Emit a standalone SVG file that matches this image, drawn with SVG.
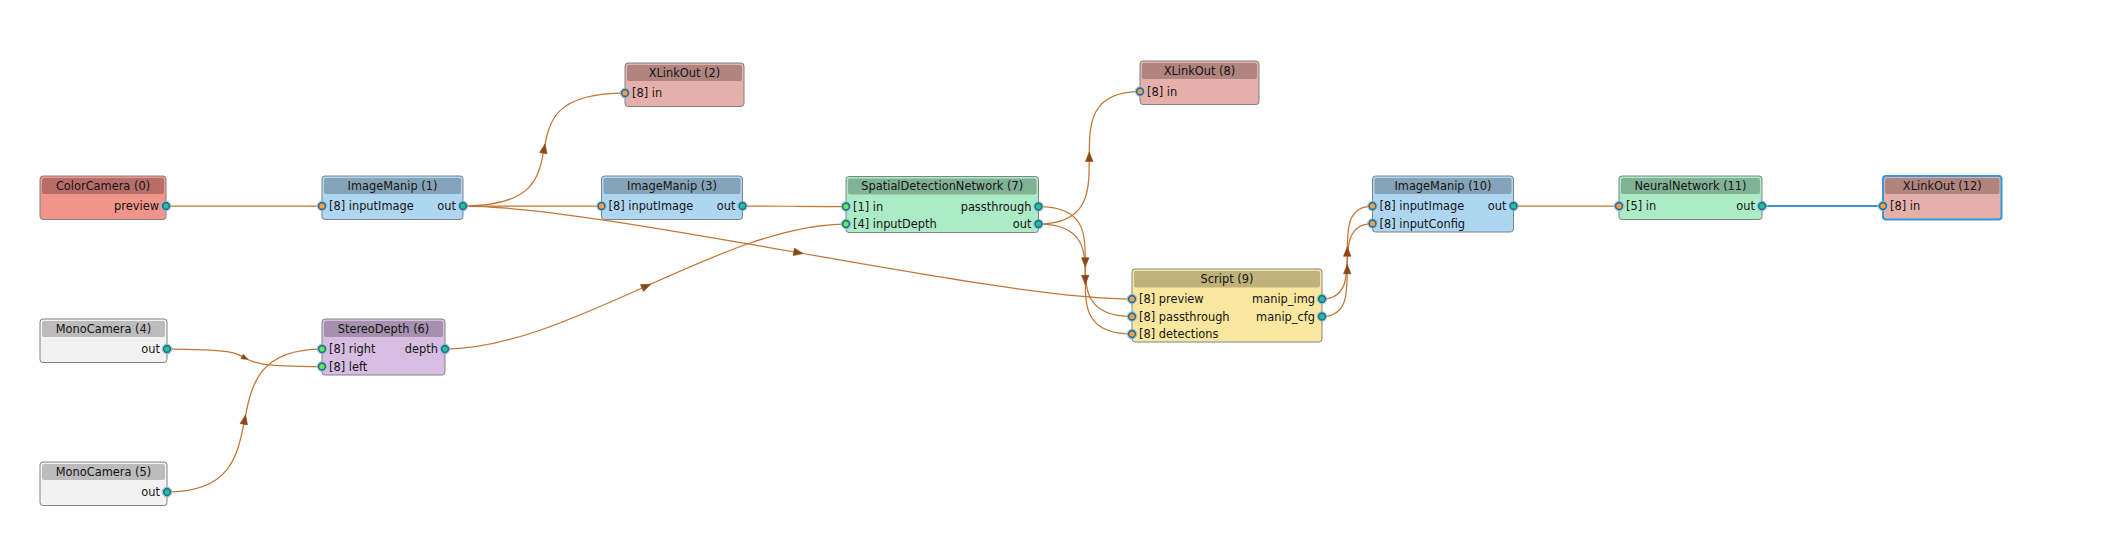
<svg xmlns="http://www.w3.org/2000/svg" width="2123" height="549" viewBox="0 0 2123 549">
<style>
text{font-family:"DejaVu Sans","Liberation Sans",sans-serif;font-size:11.4px;fill:#141414}
.t{text-anchor:middle}
.o{text-anchor:end}
.box{stroke:#7d8487;stroke-width:1}
.sel{stroke:#3498db;stroke-width:2}
.link{fill:none;stroke:#c27636;stroke-width:1.25}
.blue{fill:none;stroke:#3a9ad9;stroke-width:2}
.arr{fill:#8a4815;stroke:#8a4815;stroke-width:0.6}
.halo{fill:none;stroke:#8fc3e0;stroke-width:1}
.pi{fill:#f5a14b;stroke:#2f6a8e;stroke-width:1.6}
.pg{fill:#58ef58;stroke:#2f6a8e;stroke-width:1.6}
.po{fill:#1fc394;stroke:#2f6a8e;stroke-width:1.6}
</style>
<defs>
<g id="halo"><circle r="4.9" class="halo"/></g>
</defs>
<rect width="2123" height="549" fill="#ffffff"/>
<g id="connectors">
<path class="link" d="M166,206 C292,206 196,206 322,206"/>
<path class="link" d="M463,206 C604,206 484,93 625,93"/>
<path class="link" d="M463,206 L601.5,206"/>
<path class="link" d="M463,206 C604,206 991,299 1132,299"/>
<path class="link" d="M742.5,206 C845.5,206 743,206.5 846,206.5"/>
<path class="link" d="M445,349 C568,349 723,224 846,224"/>
<path class="link" d="M167,349 C294,349 195,366.5 322,366.5"/>
<path class="link" d="M167,492 C294,492 195,349 322,349"/>
<path class="link" d="M1038.5,224 C1140,224 1038.5,91.5 1140,91.5"/>
<path class="link" d="M1038.5,206.5 C1132,206.5 1038.5,316.5 1132,316.5"/>
<path class="link" d="M1038.5,224 C1132,224 1038.5,334 1132,334"/>
<path class="link" d="M1322,299 C1372.5,299 1322,206 1372.5,206"/>
<path class="link" d="M1322,316.5 C1372.5,316.5 1322,223.5 1372.5,223.5"/>
<path class="link" d="M1513.5,206 L1619,206"/>
<path class="blue" d="M1762,206 L1883,206"/>
<polygon class="arr" points="-3.75,3.75 0,-5.6 3.75,3.75" transform="translate(544,149.5) rotate(10.5)"/>
<polygon class="arr" points="-3.75,3.75 0,-5.6 3.75,3.75" transform="translate(797.5,252.5) rotate(100)"/>
<polygon class="arr" points="-3.75,3.75 0,-5.6 3.75,3.75" transform="translate(645.5,286.5) rotate(65.8)"/>
<polygon class="arr" points="-3.75,3.75 0,-5.6 3.75,3.75" transform="translate(244.5,357.75) rotate(118) scale(0.7)"/>
<polygon class="arr" points="-3.75,3.75 0,-5.6 3.75,3.75" transform="translate(244.5,420.5) rotate(11.1)"/>
<polygon class="arr" points="-3.75,3.75 0,-5.6 3.75,3.75" transform="translate(1089.25,157.75)"/>
<polygon class="arr" points="-3.75,3.75 0,-5.6 3.75,3.75" transform="translate(1085.25,261.5) rotate(180)"/>
<polygon class="arr" points="-3.75,3.75 0,-5.6 3.75,3.75" transform="translate(1085.25,279) rotate(180)"/>
<polygon class="arr" points="-3.75,3.75 0,-5.6 3.75,3.75" transform="translate(1347.25,252.5)"/>
<polygon class="arr" points="-3.75,3.75 0,-5.6 3.75,3.75" transform="translate(1347.25,270)"/>
</g>
<g id="node-0">
<rect class="box" x="40" y="176" width="126" height="43.5" rx="3" fill="#f1948a"/>
<rect x="42" y="178" width="122" height="16" rx="2" fill="#b86e68"/>
<text class="t" x="103" y="189.7">ColorCamera (0)</text>
<text class="o" x="159" y="210.3">preview</text>
<use href="#halo" x="166" y="206"/><circle class="po" cx="166" cy="206" r="3.4"/>
</g>
<g id="node-1">
<rect class="box" x="322" y="176" width="141" height="43.5" rx="3" fill="#aed6f1"/>
<rect x="324" y="178" width="137" height="16" rx="2" fill="#85a3b8"/>
<text class="t" x="392.5" y="189.7">ImageManip (1)</text>
<text x="329" y="210.3">[8] inputImage</text>
<text class="o" x="456" y="210.3">out</text>
<use href="#halo" x="322" y="206"/><circle class="pi" cx="322" cy="206" r="3.4"/>
<use href="#halo" x="463" y="206"/><circle class="po" cx="463" cy="206" r="3.4"/>
</g>
<g id="node-2">
<rect class="box" x="625" y="63" width="119" height="43.5" rx="3" fill="#e6b0aa"/>
<rect x="627" y="65" width="115" height="16" rx="2" fill="#b0847f"/>
<text class="t" x="684.5" y="76.7">XLinkOut (2)</text>
<text x="632" y="97.3">[8] in</text>
<use href="#halo" x="625" y="93"/><circle class="pi" cx="625" cy="93" r="3.4"/>
</g>
<g id="node-3">
<rect class="box" x="601.5" y="176" width="141" height="43.5" rx="3" fill="#aed6f1"/>
<rect x="603.5" y="178" width="137" height="16" rx="2" fill="#85a3b8"/>
<text class="t" x="672" y="189.7">ImageManip (3)</text>
<text x="608.5" y="210.3">[8] inputImage</text>
<text class="o" x="735.5" y="210.3">out</text>
<use href="#halo" x="601.5" y="206"/><circle class="pi" cx="601.5" cy="206" r="3.4"/>
<use href="#halo" x="742.5" y="206"/><circle class="po" cx="742.5" cy="206" r="3.4"/>
</g>
<g id="node-4">
<rect class="box" x="40" y="319" width="127" height="43.5" rx="3" fill="#f2f2f2"/>
<rect x="42" y="321" width="123" height="16" rx="2" fill="#bcbcbc"/>
<text class="t" x="103.5" y="332.7">MonoCamera (4)</text>
<text class="o" x="160" y="353.3">out</text>
<use href="#halo" x="167" y="349"/><circle class="po" cx="167" cy="349" r="3.4"/>
</g>
<g id="node-5">
<rect class="box" x="40" y="462" width="127" height="43.5" rx="3" fill="#f2f2f2"/>
<rect x="42" y="464" width="123" height="16" rx="2" fill="#bcbcbc"/>
<text class="t" x="103.5" y="475.7">MonoCamera (5)</text>
<text class="o" x="160" y="496.3">out</text>
<use href="#halo" x="167" y="492"/><circle class="po" cx="167" cy="492" r="3.4"/>
</g>
<g id="node-6">
<rect class="box" x="322" y="319" width="123" height="56" rx="3" fill="#d7bde2"/>
<rect x="324" y="321" width="119" height="16" rx="2" fill="#a590ad"/>
<text class="t" x="383.5" y="332.7">StereoDepth (6)</text>
<text x="329" y="353.3">[8] right</text>
<text x="329" y="370.8">[8] left</text>
<text class="o" x="438" y="353.3">depth</text>
<use href="#halo" x="322" y="349"/><circle class="pg" cx="322" cy="349" r="3.4"/>
<use href="#halo" x="322" y="366.5"/><circle class="pg" cx="322" cy="366.5" r="3.4"/>
<use href="#halo" x="445" y="349"/><circle class="po" cx="445" cy="349" r="3.4"/>
</g>
<g id="node-7">
<rect class="box" x="846" y="176.5" width="192.5" height="56" rx="3" fill="#abebc6"/>
<rect x="848" y="178.5" width="188.5" height="16" rx="2" fill="#82b296"/>
<text class="t" x="942.25" y="190.2">SpatialDetectionNetwork (7)</text>
<text x="853" y="210.8">[1] in</text>
<text x="853" y="228.3">[4] inputDepth</text>
<text class="o" x="1031.5" y="210.8">passthrough</text>
<text class="o" x="1031.5" y="228.3">out</text>
<use href="#halo" x="846" y="206.5"/><circle class="pg" cx="846" cy="206.5" r="3.4"/>
<use href="#halo" x="846" y="224"/><circle class="pg" cx="846" cy="224" r="3.4"/>
<use href="#halo" x="1038.5" y="206.5"/><circle class="po" cx="1038.5" cy="206.5" r="3.4"/>
<use href="#halo" x="1038.5" y="224"/><circle class="po" cx="1038.5" cy="224" r="3.4"/>
</g>
<g id="node-8">
<rect class="box" x="1140" y="61" width="119" height="43.5" rx="3" fill="#e6b0aa"/>
<rect x="1142" y="63" width="115" height="16" rx="2" fill="#b0847f"/>
<text class="t" x="1199.5" y="74.7">XLinkOut (8)</text>
<text x="1147" y="95.8">[8] in</text>
<use href="#halo" x="1140" y="91.5"/><circle class="pi" cx="1140" cy="91.5" r="3.4"/>
</g>
<g id="node-9">
<rect class="box" x="1132" y="269" width="190" height="73" rx="3" fill="#f9e79f"/>
<rect x="1134" y="271" width="186" height="16.5" rx="2" fill="#bfb27a"/>
<text class="t" x="1227" y="283">Script (9)</text>
<text x="1139" y="303.3">[8] preview</text>
<text x="1139" y="320.8">[8] passthrough</text>
<text x="1139" y="338.3">[8] detections</text>
<text class="o" x="1315" y="303.3">manip_img</text>
<text class="o" x="1315" y="320.8">manip_cfg</text>
<use href="#halo" x="1132" y="299"/><circle class="pi" cx="1132" cy="299" r="3.4"/>
<use href="#halo" x="1132" y="316.5"/><circle class="pi" cx="1132" cy="316.5" r="3.4"/>
<use href="#halo" x="1132" y="334"/><circle class="pi" cx="1132" cy="334" r="3.4"/>
<use href="#halo" x="1322" y="299"/><circle class="po" cx="1322" cy="299" r="3.4"/>
<use href="#halo" x="1322" y="316.5"/><circle class="po" cx="1322" cy="316.5" r="3.4"/>
</g>
<g id="node-10">
<rect class="box" x="1372.5" y="176" width="141" height="56" rx="3" fill="#aed6f1"/>
<rect x="1374.5" y="178" width="137" height="16" rx="2" fill="#85a3b8"/>
<text class="t" x="1443" y="189.7">ImageManip (10)</text>
<text x="1379.5" y="210.3">[8] inputImage</text>
<text x="1379.5" y="227.8">[8] inputConfig</text>
<text class="o" x="1506.5" y="210.3">out</text>
<use href="#halo" x="1372.5" y="206"/><circle class="pi" cx="1372.5" cy="206" r="3.4"/>
<use href="#halo" x="1372.5" y="223.5"/><circle class="pi" cx="1372.5" cy="223.5" r="3.4"/>
<use href="#halo" x="1513.5" y="206"/><circle class="po" cx="1513.5" cy="206" r="3.4"/>
</g>
<g id="node-11">
<rect class="box" x="1619" y="176" width="143" height="43.5" rx="3" fill="#abebc6"/>
<rect x="1621" y="178" width="139" height="16" rx="2" fill="#82b296"/>
<text class="t" x="1690.5" y="189.7">NeuralNetwork (11)</text>
<text x="1626" y="210.3">[5] in</text>
<text class="o" x="1755" y="210.3">out</text>
<use href="#halo" x="1619" y="206"/><circle class="pi" cx="1619" cy="206" r="3.4"/>
<use href="#halo" x="1762" y="206"/><circle class="po" cx="1762" cy="206" r="3.4"/>
</g>
<g id="node-12">
<rect class="sel" x="1883" y="176" width="118.5" height="43.5" rx="3" fill="#e6b0aa"/>
<rect x="1885" y="178" width="114.5" height="16" rx="2" fill="#b0847f"/>
<text class="t" x="1942.25" y="189.7">XLinkOut (12)</text>
<text x="1890" y="210.3">[8] in</text>
<use href="#halo" x="1883" y="206"/><circle class="pi" cx="1883" cy="206" r="3.4"/>
</g>
</svg>
